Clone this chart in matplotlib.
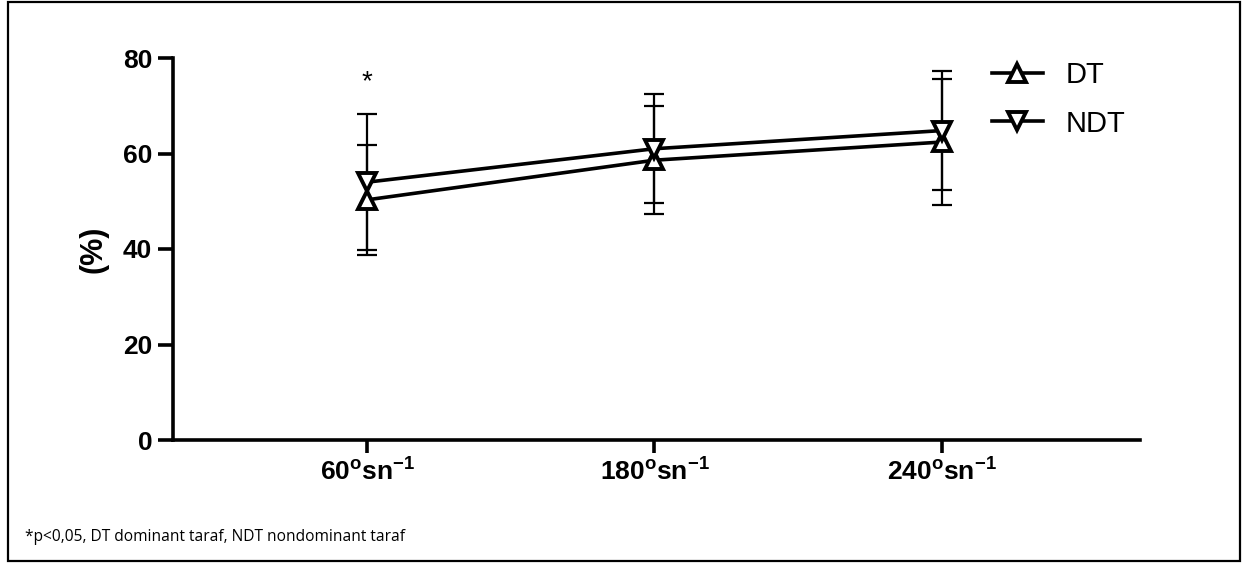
import matplotlib
matplotlib.use("Agg")
import matplotlib.pyplot as plt
from matplotlib.patches import Rectangle

plt.rcParams['font.family'] = ['Liberation Sans', 'DejaVu Sans']
plt.rcParams['mathtext.fontset'] = 'custom'
plt.rcParams['mathtext.rm'] = 'Liberation Sans'
plt.rcParams['mathtext.bf'] = 'Liberation Sans:bold'

categories = ['60', '180', '240']
tick_labels = [r'$\mathbf{60^{o}sn^{-1}}$', r'$\mathbf{180^{o}sn^{-1}}$', r'$\mathbf{240^{o}sn^{-1}}$']
dt_mean = [50.3, 58.6, 62.4]
dt_sd = [11.5, 11.3, 13.2]
ndt_mean = [54.0, 61.0, 64.8]
ndt_sd = [14.3, 11.4, 12.5]
y_ticks = [0, 20, 40, 60, 80]

W, H = 1247, 567
fig = plt.figure(figsize=(W / 100, H / 100), dpi=100)
ax = fig.add_axes([173 / W, 1 - 440 / H, (1140 - 173) / W, (440 - 58) / H])

x = list(range(len(categories)))

ax.errorbar(x, ndt_mean, yerr=ndt_sd, fmt='none', ecolor='black', elinewidth=1.6,
            capsize=7, capthick=1.6, zorder=2)
ax.errorbar(x, dt_mean, yerr=dt_sd, fmt='none', ecolor='black', elinewidth=1.6,
            capsize=7, capthick=1.6, zorder=2)
ax.plot(x, dt_mean, color='black', lw=2.6, marker='^', ms=13, mfc='white', mec='black',
        mew=2.8, label='DT', zorder=3)
ax.plot(x, ndt_mean, color='black', lw=2.6, marker='v', ms=13, mfc='white', mec='black',
        mew=2.8, label='NDT', zorder=3)

ax.text(x[0], 75.0, '*', ha='center', va='center', fontsize=20)

ax.set_xlim(-0.676, 2.69)
ax.set_ylim(0, 80)
ax.set_xticks(x)
ax.set_xticklabels(tick_labels, fontsize=19)
ax.set_yticks(y_ticks)
ax.set_yticklabels([str(v) for v in y_ticks], fontsize=19, fontweight='bold')
ax.tick_params(axis='y', length=11, width=2.6, pad=4)
ax.tick_params(axis='x', length=9, width=2.6, pad=4)
for s in ['top', 'right']:
    ax.spines[s].set_visible(False)
for s in ['left', 'bottom']:
    ax.spines[s].set_linewidth(2.6)

ax.set_ylabel('(%)', fontsize=22, fontweight='bold', labelpad=10)

leg = ax.legend(loc='upper left', bbox_to_anchor=((980 - 173) / (1140 - 173), 1.022),
                frameon=False, fontsize=21, handlelength=1.75, handletextpad=0.8,
                labelspacing=0.7, borderaxespad=0)

fig.text(25 / W, 1 - 537 / H, '*p<0,05, DT dominant taraf, NDT nondominant taraf',
         fontsize=11.2, family=['Open Sans', 'DejaVu Sans'], va='center', ha='left')

fig.patches.append(Rectangle((8 / W, 1 - 561 / H), (1240 - 8) / W, (561 - 2) / H,
                             transform=fig.transFigure, fill=False, lw=1.6,
                             edgecolor='black'))

fig.savefig('out.png', dpi=100)
